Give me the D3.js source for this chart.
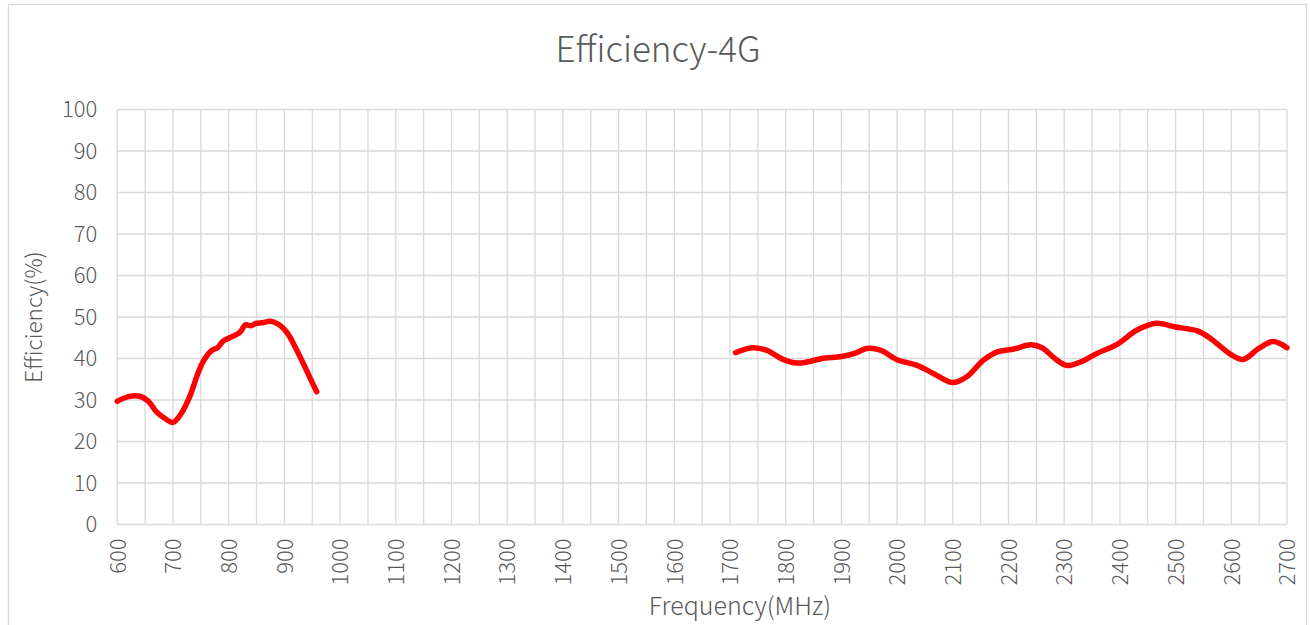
<!DOCTYPE html>
<html lang="en">
<head>
    <meta charset="UTF-8">
    <title>Efficiency-4G</title>
    <style>
        body { margin: 0; background: #fff; }
        svg { display: block; }
        text { font-family: "Noto Sans CJK SC", "Noto Sans", sans-serif; font-weight: 300; fill: #595959; }
    </style>
</head>
<body>
    <div id="chart"></div>
    <script src="https://d3js.org/d3.v7.min.js"></script>
    <script>
        // low band (MHz, %)
        const lowFreq = [600, 620, 640, 655, 670, 685, 700, 715, 730, 745, 755, 770, 780, 790, 805, 820, 830, 840, 850, 860, 875, 890, 905, 920, 935, 950, 958];
        const lowEff = [29.7, 30.8, 30.9, 29.8, 27.2, 25.6, 24.6, 26.8, 30.8, 36.5, 39.5, 42.0, 42.6, 44.2, 45.2, 46.3, 48.1, 47.9, 48.5, 48.6, 49.0, 48.2, 46.2, 42.6, 38.5, 34.2, 32.0];
        // high band (MHz, %)
        const highFreq = [1710, 1740, 1765, 1795, 1820, 1840, 1865, 1900, 1925, 1945, 1970, 2000, 2035, 2065, 2100, 2125, 2155, 2180, 2210, 2240, 2260, 2285, 2305, 2330, 2360, 2395, 2430, 2465, 2500, 2540, 2565, 2600, 2622, 2648, 2675, 2700];
        const highEff = [41.4, 42.6, 42.0, 39.8, 38.9, 39.2, 40.0, 40.5, 41.3, 42.4, 42.0, 39.7, 38.4, 36.4, 34.2, 35.6, 39.6, 41.6, 42.3, 43.3, 42.6, 39.8, 38.3, 39.2, 41.3, 43.4, 46.8, 48.5, 47.6, 46.6, 44.6, 40.9, 39.8, 42.3, 44.1, 42.6];
        const xTicks = d3.range(600, 2701, 100);
        const xGrid = d3.range(600, 2701, 50);
        const yTicks = d3.range(0, 101, 10);

        const width = 1310;
        const height = 625;
        const plot = { left: 117.3, right: 1287, top: 109.5, bottom: 524.5 };

        const svg = d3.select('#chart')
            .append('svg')
            .attr('width', width)
            .attr('height', height);

        svg.append('rect')
            .attr('x', 8.5).attr('y', 4.5)
            .attr('width', 1298).attr('height', 640)
            .attr('fill', '#fff')
            .attr('stroke', '#d9d9d9')
            .attr('stroke-width', 1.3);

        const x = d3.scaleLinear().domain([600, 2700]).range([plot.left, plot.right]);
        const y = d3.scaleLinear().domain([0, 100]).range([plot.bottom, plot.top]);

        // grid
        svg.append('g')
            .selectAll('line')
            .data(xGrid)
            .enter()
            .append('line')
            .attr('x1', d => x(d)).attr('x2', d => x(d))
            .attr('y1', plot.top).attr('y2', plot.bottom)
            .attr('stroke', '#d9d9d9').attr('stroke-width', 1.3);

        svg.append('g')
            .selectAll('line')
            .data(yTicks)
            .enter()
            .append('line')
            .attr('x1', plot.left).attr('x2', plot.right)
            .attr('y1', d => y(d)).attr('y2', d => y(d))
            .attr('stroke', '#d9d9d9').attr('stroke-width', 1.3);

        // y axis labels
        const yAxis = svg.append('g')
            .attr('transform', `translate(${plot.left}, 0)`)
            .call(d3.axisLeft(y).tickValues(yTicks).tickSize(0).tickPadding(20));
        yAxis.select('.domain').remove();
        yAxis.selectAll('text')
            .style('font-size', '22px')
            .attr('fill', '#595959');

        // x axis labels
        const xAxis = svg.append('g')
            .attr('transform', `translate(0, ${plot.bottom})`)
            .call(d3.axisBottom(x).tickValues(xTicks).tickFormat(d3.format('d')).tickSize(0));
        xAxis.select('.domain').remove();
        xAxis.selectAll('text')
            .style('font-size', '22px')
            .attr('fill', '#595959')
            .attr('transform', 'rotate(-90)')
            .attr('text-anchor', 'end')
            .attr('x', -14)
            .attr('y', 0)
            .attr('dy', '0.35em');

        // titles
        svg.append('text')
            .attr('x', 658).attr('y', 62)
            .attr('text-anchor', 'middle')
            .style('font-size', '35px')
            .text('Efficiency-4G');

        svg.append('text')
            .attr('x', 740).attr('y', 615)
            .attr('text-anchor', 'middle')
            .style('font-size', '25px')
            .text('Frequency(MHz)');

        svg.append('text')
            .attr('transform', 'translate(42, 317) rotate(-90)')
            .attr('text-anchor', 'middle')
            .style('font-size', '22.5px')
            .text('Efficiency(%)');

        // curves
        const line = d3.line()
            .x(d => x(d[0]))
            .y(d => y(d[1]))
            .curve(d3.curveCatmullRom.alpha(0.5));

        [[lowFreq, lowEff], [highFreq, highEff]].forEach(([f, e]) => {
            svg.append('path')
                .datum(f.map((d, i) => [d, e[i]]))
                .attr('fill', 'none')
                .attr('stroke', '#ff0000')
                .attr('stroke-width', 5.5)
                .attr('stroke-linecap', 'round')
                .attr('stroke-linejoin', 'round')
                .attr('d', line);
        });
    </script>
</body>
</html>
